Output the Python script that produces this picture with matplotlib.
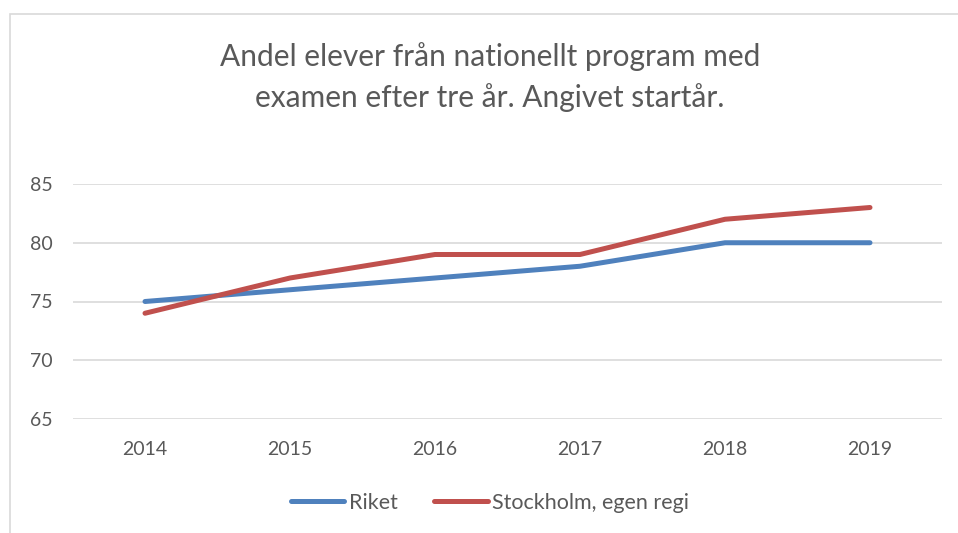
import matplotlib.pyplot as plt
from matplotlib.patches import Rectangle

years = ['2014', '2015', '2016', '2017', '2018', '2019']
riket = [75, 76, 77, 78, 80, 80]
stockholm = [74, 77, 79, 79, 82, 83]

plt.rcParams['font.family'] = ['Lato', 'DejaVu Sans']
grey_txt = '#595959'
grid_col = '#D9D9D9'

fig = plt.figure(figsize=(9.58, 5.33), dpi=100)
fig.patches.append(Rectangle((10 / 958, -0.1), 1.2, 1 - 14 / 533 + 0.1,
                             transform=fig.transFigure, fill=False,
                             ec=grid_col, lw=1.2))

ax = fig.add_axes([72.5 / 958, 1 - 419 / 533, 870 / 958, 235 / 533])
x = list(range(len(years)))
ax.plot(x, riket, color='#4F81BD', lw=3.6, solid_capstyle='round',
        solid_joinstyle='round', label='Riket', zorder=3)
ax.plot(x, stockholm, color='#C0504D', lw=3.6, solid_capstyle='round',
        solid_joinstyle='round', label='Stockholm, egen regi', zorder=3)

ax.set_xlim(-0.5, len(years) - 0.5)
ax.set_ylim(65, 85)
ax.set_yticks([65, 70, 75, 80, 85])
ax.set_xticks(x)
ax.set_xticklabels(years)
ax.grid(axis='y', color=grid_col, lw=1.2)
for s in ax.spines.values():
    s.set_visible(False)
ax.tick_params(axis='both', length=0, colors=grey_txt, labelsize=14)
ax.tick_params(axis='y', pad=14)
ax.tick_params(axis='x', pad=16)

# title, centred on the chart area rather than the figure
fig.text(490 / 958, 1 - 57 / 533, 'Andel elever från nationellt program med',
         ha='center', va='center', fontsize=21.5, color=grey_txt)
fig.text(490 / 958, 1 - 98 / 533, 'examen efter tre år. Angivet startår.',
         ha='center', va='center', fontsize=21.5, color=grey_txt)

leg = fig.legend(loc='center', bbox_to_anchor=(490 / 958, 1 - 503 / 533),
                 ncol=2, frameon=False, fontsize=15.5, handlelength=2.5,
                 handletextpad=0.2, columnspacing=1.7)
for t in leg.get_texts():
    t.set_color(grey_txt)

fig.savefig('out.png', dpi=100)
